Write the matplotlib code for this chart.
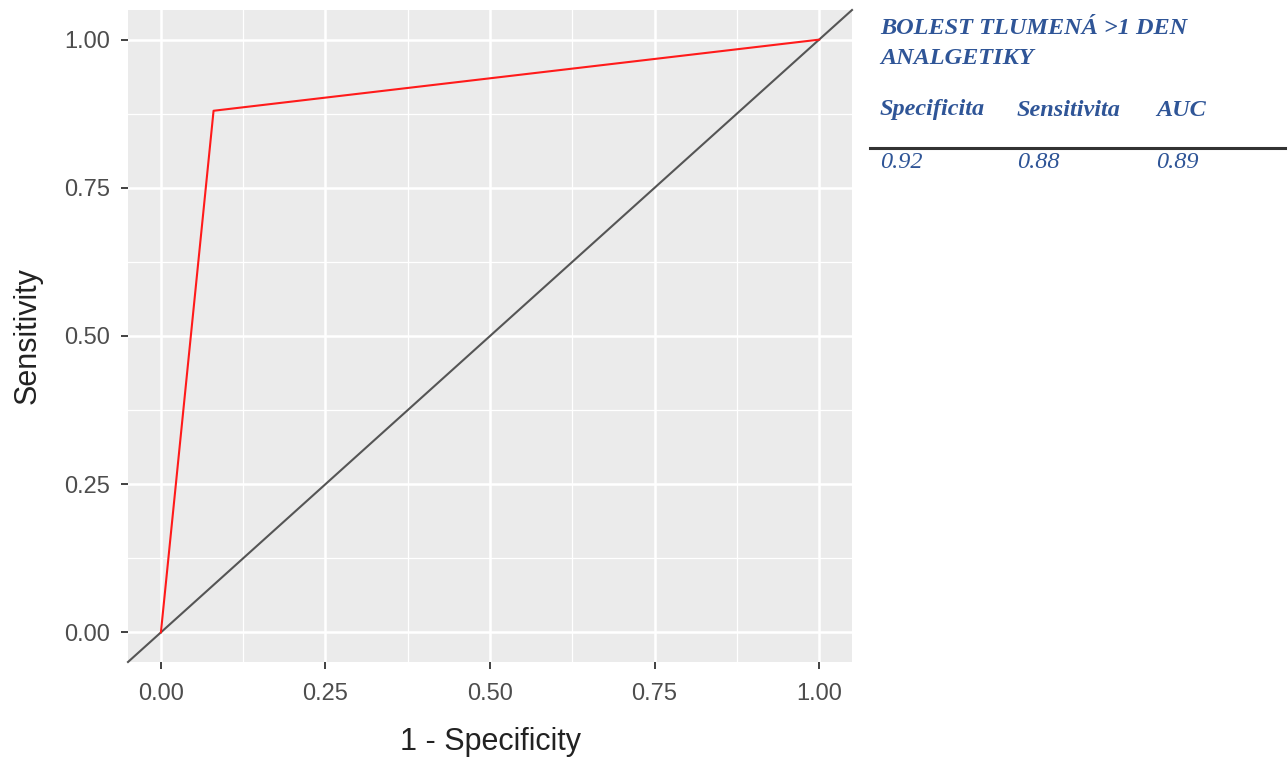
import matplotlib
matplotlib.use("Agg")
import matplotlib.pyplot as plt
import numpy as np

# ROC data
fpr = [0.0, 0.08, 1.0]
tpr = [0.0, 0.88, 1.0]
diag = [-0.05, 1.05]
ticks = [0.0, 0.25, 0.5, 0.75, 1.0]
tick_labels = ["0.00", "0.25", "0.50", "0.75", "1.00"]
minor = [0.125, 0.375, 0.625, 0.875]

title_lines = ["BOLEST TLUMENÁ >1 DEN", "ANALGETIKY"]
headers = ["Specificita", "Sensitivita", "AUC"]
values = ["0.92", "0.88", "0.89"]

W, H = 1288, 758
fig = plt.figure(figsize=(W / 100, H / 100), dpi=100)
ax = fig.add_axes([128 / W, (H - 662) / H, (852 - 128) / W, (662 - 10) / H])
ax.set_facecolor("#EBEBEB")
for s in ax.spines.values():
    s.set_visible(False)
ax.set_xlim(-0.05, 1.05)
ax.set_ylim(-0.05, 1.05)
for m in minor:
    ax.axvline(m, color="white", lw=0.9, zorder=0)
    ax.axhline(m, color="white", lw=0.9, zorder=0)
for t in ticks:
    ax.axvline(t, color="white", lw=1.8, zorder=0)
    ax.axhline(t, color="white", lw=1.8, zorder=0)
ax.plot(diag, diag, color="#555555", lw=1.5, zorder=2, clip_on=False)
ax.plot(fpr, tpr, color="#FF1A1A", lw=1.5, zorder=3)
ax.set_xticks(ticks)
ax.set_xticklabels(tick_labels)
ax.set_yticks(ticks)
ax.set_yticklabels(tick_labels)
ax.tick_params(axis="both", length=5, width=1.3, color="#333333",
               labelcolor="#4D4D4D", labelsize=17)
ax.tick_params(axis="x", pad=10)
ax.tick_params(axis="y", pad=8)
for lab in ax.get_xticklabels() + ax.get_yticklabels():
    lab.set_family("Liberation Sans")

fig.text(490 / W, 1 - 750 / H, "1 - Specificity", fontsize=22, family="Liberation Sans",
         color="#222222", ha="center", va="baseline")
fig.text(28 / W, 1 - 336 / H, "Sensitivity", fontsize=22, family="Liberation Sans",
         color="#222222", ha="center", va="center", rotation=90)

blue = "#2F5597"
tkw = dict(family="Liberation Serif", style="italic", color=blue, fontsize=17.5)
fig.text(880 / W, 1 - 28 / H, title_lines[0], weight="bold", va="center", ha="left", **tkw)
fig.text(880 / W, 1 - 58 / H, title_lines[1], weight="bold", va="center", ha="left", **tkw)
xs = [880, 1017, 1156]
for x, h, v in zip(xs, headers, values):
    fig.text(x / W, 1 - 110 / H, h, weight="bold", va="center", ha="left", **tkw)
    fig.text(x / W, 1 - 163 / H, v, weight="normal", va="center", ha="left", **tkw)
fig.add_artist(plt.Line2D([870 / W, 1285 / W], [1 - 148 / H, 1 - 148 / H], color="#333333", lw=2.2))

fig.savefig("out.png", dpi=100)
